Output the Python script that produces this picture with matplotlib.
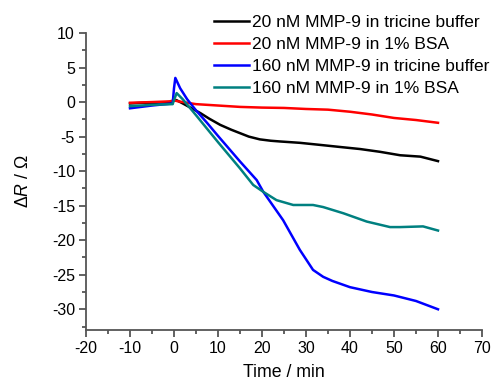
import matplotlib
matplotlib.use("Agg")
import matplotlib.pyplot as plt
from matplotlib.ticker import MultipleLocator

plt.rcParams['font.family'] = ['Liberation Sans', 'DejaVu Sans']
plt.rcParams['mathtext.fontset'] = 'custom'
plt.rcParams['mathtext.it'] = 'Liberation Sans:italic'
plt.rcParams['mathtext.rm'] = 'Liberation Sans'
plt.rcParams['axes.unicode_minus'] = False

# 20 nM MMP-9 in tricine buffer
t_black = [-10, -7, -4, -1, 0, 0.5, 2, 4, 6, 8, 10.5, 13, 15, 17, 19.5, 22, 24, 28.6, 33.2, 37.7, 42.3, 46.8, 51.4, 56, 60]
r_black = [-0.2, -0.1, -0.1, 0.0, 0.2, 0.3, -0.2, -0.9, -1.6, -2.4, -3.3, -4.0, -4.5, -5.0, -5.4, -5.6, -5.7, -5.9, -6.2, -6.5, -6.8, -7.2, -7.7, -7.9, -8.55]

# 20 nM MMP-9 in 1% BSA
t_red = [-10, -5, -1, 0, 1, 5, 10, 15, 20, 25, 30, 35, 40, 45, 50, 55, 60]
r_red = [-0.1, 0.0, 0.1, 0.25, 0.1, -0.3, -0.5, -0.7, -0.8, -0.85, -1.0, -1.1, -1.4, -1.8, -2.3, -2.6, -3.0]

# 160 nM MMP-9 in tricine buffer
t_blue = [-10, -5, -0.3, 0.0, 0.3, 1.4, 3, 5, 7.5, 10, 15, 18.8, 20.3, 24.8, 28.6, 31.6, 33.9, 36, 40, 45, 50, 55, 60]
r_blue = [-0.9, -0.5, -0.2, 2.0, 3.5, 2.0, 0.4, -1.2, -3.0, -4.9, -8.6, -11.3, -13.0, -17.1, -21.4, -24.3, -25.3, -25.9, -26.8, -27.5, -28.0, -28.8, -30.0]

# 160 nM MMP-9 in 1% BSA
t_teal = [-10, -5, -0.3, 0.0, 0.6, 2, 5, 10, 15, 18, 20.3, 23.3, 27.1, 31.6, 33.9, 38.5, 43.8, 49.1, 51.4, 56.6, 60]
r_teal = [-0.6, -0.4, -0.3, 0.3, 1.3, 0.4, -1.9, -5.8, -9.6, -12.0, -13.0, -14.2, -14.9, -14.9, -15.2, -16.1, -17.3, -18.1, -18.1, -18.0, -18.6]

labels = ["20 nM MMP-9 in tricine buffer", "20 nM MMP-9 in 1% BSA",
          "160 nM MMP-9 in tricine buffer", "160 nM MMP-9 in 1% BSA"]
colors = ["#000000", "#ff0000", "#0000ff", "#008080"]

fig = plt.figure(figsize=(4.99, 3.86), dpi=100)
ax = fig.add_axes([86/499, 1-330/386, (482-86)/499, (330-33)/386])

series = [(t_black, r_black), (t_red, r_red), (t_blue, r_blue), (t_teal, r_teal)]
for (t, r), c, lab in zip(series, colors, labels):
    ax.plot(t, r, color=c, lw=1.8, label=lab)

ax.set_xlim(-20, 70)
ax.set_ylim(-33, 10)
ax.xaxis.set_major_locator(MultipleLocator(10))
ax.xaxis.set_minor_locator(MultipleLocator(5))
ax.yaxis.set_major_locator(MultipleLocator(5))
ax.yaxis.set_minor_locator(MultipleLocator(2.5))
for s in ['top', 'right']:
    ax.spines[s].set_visible(False)
for s in ['left', 'bottom']:
    ax.spines[s].set_color('#555555')
    ax.spines[s].set_linewidth(1.3)
ax.tick_params(which='major', direction='out', length=5, width=1.3, color='#555555', labelsize=11.5, pad=3)
ax.tick_params(which='minor', direction='out', length=3, width=1.3, color='#555555')

ax.set_xlabel("Time / min", fontsize=12.8, labelpad=6)
ax.set_ylabel(r"$\mathit{\Delta R}$ / $\Omega$", fontsize=12.8, labelpad=14)

leg = ax.legend(loc='upper left', bbox_to_anchor=(214/499, 1-15/386), bbox_transform=fig.transFigure,
                frameon=False, fontsize=12.5, handlelength=2.0, handletextpad=0.2,
                labelspacing=0.4, borderaxespad=0, borderpad=0)

fig.savefig("out.png", dpi=100)
